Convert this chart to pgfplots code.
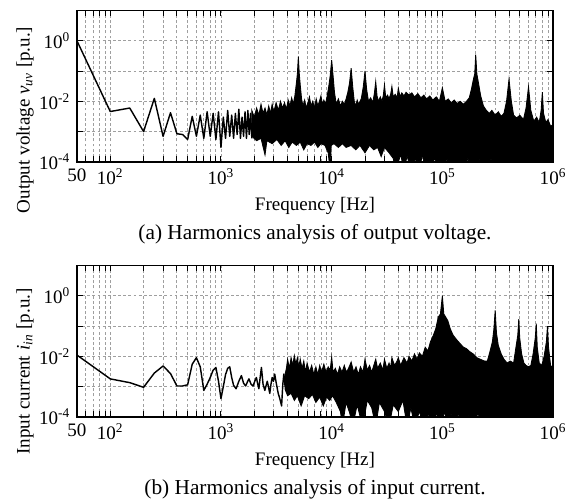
\documentclass[border=0pt]{standalone}
\usepackage{fontspec}
\setmainfont{Liberation Serif}
\usepackage{pgfplots}
\pgfplotsset{compat=1.18}

\begin{document}
\begin{tikzpicture}
\path[use as bounding box] (-40.4pt,-177pt) rectangle (261pt,85pt);

% (a) output voltage
\begin{axis}[
    name=top,
    xmode=log, ymode=log,
    scale only axis, width=250pt, height=79.5pt,
    xmin=50, xmax=1e6, ymin=1e-4, ymax=10,
    xtick={50,100,1000,10000,100000,1000000},
    xticklabels={50,10\textsuperscript{2},10\textsuperscript{3},10\textsuperscript{4},10\textsuperscript{5},10\textsuperscript{6}},
    minor xtick={60,70,80,90,200,300,400,500,600,700,800,900,2000,3000,4000,5000,6000,7000,8000,9000,20000,30000,40000,50000,60000,70000,80000,90000,200000,300000,400000,500000,600000,700000,800000,900000},
    ytick={1e-4,1e-3,1e-2,1e-1,1,10},
    yticklabels={10\textsuperscript{-4},,10\textsuperscript{-2},,10\textsuperscript{0},},
    minor y tick style={draw=none},
    xmajorgrids, xminorgrids, ymajorgrids, yminorgrids=false,
    major grid style={gray!75, dash pattern=on 1.5pt off 1.2pt, line width=0.45pt},
    minor grid style={gray!75, dash pattern=on 1.5pt off 1.2pt, line width=0.45pt},
    tick align=inside, major tick length=3pt, minor tick length=3pt,
    tick style={black, line width=0.5pt},
    axis line style={line width=0.8pt},
    tick label style={font=\fontsize{10}{12}\selectfont},
    label style={font=\fontsize{10}{12}\selectfont},
    xlabel={Frequency [Hz]},
    ylabel={Output voltage \textit{v}\textsubscript{\textit{uv}} [p.u.]},
    ylabel style={at={(axis description cs:-0.109,0.277)}, anchor=center},
  ]
\addplot[black, line width=0.75pt, line join=round] coordinates {
 (50,1.0) (100,4.6e-3) (150,6e-3) (200,1e-3) (250,1.25e-2) (300,7e-4) (350,4.2e-3) (400,8.5e-4)
 (450,8e-4) (500,5.5e-4) (550,3.2e-3) (600,7e-4) (650,3.5e-3) (700,6e-4) (750,4.5e-3) (800,7e-4)
 (850,4e-3) (900,5.5e-4) (950,4.5e-3) (1000,3e-4) (1050,3e-3) (1100,6e-4) (1150,5e-3) (1200,7e-4)
 (1250,3.5e-3) (1300,6e-4) (1350,4e-3) (1400,8e-4) (1450,5.5e-3) (1500,6e-4) (1550,3e-3) (1600,7e-4)
 (1650,4.5e-3) (1700,6e-4) (1750,5e-3) (1800,8e-4) (1850,4e-3) (1900,6e-4)
};
% band: upper envelope, then lower envelope backwards
\addplot[black, fill=black, line width=0.45pt] coordinates {
 (1900,5e-3) (2000,3e-3) (2100,6e-3) (2200,3.5e-3) (2300,8e-3) (2400,4e-3) (2500,6e-3) (2600,3.5e-3)
 (2700,7e-3) (2800,4e-3) (2900,8e-3) (3000,4.5e-3) (3150,9e-3) (3300,5e-3) (3450,1e-2) (3600,6e-3)
 (3750,9e-3) (3900,5.5e-3) (4050,1.1e-2) (4200,7e-3) (4350,1.3e-2) (4500,8e-3) (4650,1.5e-2) (4800,4e-2)
 (4900,8e-2) (5000,0.3) (5100,8e-2) (5200,3.5e-2) (5350,1.2e-2) (5500,7e-3) (5700,1.1e-2) (5900,6e-3)
 (6100,9e-3) (6300,1.4e-2) (6500,7e-3) (6750,1e-2) (7000,6e-3) (7250,1.2e-2) (7500,7e-3) (7750,1e-2)
 (8000,1.5e-2) (8250,8e-3) (8500,1.1e-2) (8800,8e-3) (9100,1.5e-2) (9400,3e-2) (9700,7e-2) (10000,0.23)
 (10300,7e-2) (10600,2e-2) (11000,8e-3) (11500,1.2e-2) (12000,7e-3) (12500,1e-2) (13000,8e-3) (13500,1.2e-2)
 (14000,2e-2) (14500,4e-2) (15000,0.125) (15500,3e-2) (16000,1e-2) (16500,7e-3) (17000,1.1e-2) (17500,8e-3)
 (18500,1.2e-2) (19300,3e-2) (20000,0.1) (20700,2.5e-2) (21500,1e-2) (22500,1.3e-2) (23500,9e-3) (24300,1.8e-2)
 (25000,4.5e-2) (25700,1.5e-2) (26500,1e-2) (27500,1.4e-2) (28500,1e-2) (29300,1.6e-2) (30000,3.5e-2) (30800,1.3e-2)
 (32000,1.6e-2) (33000,1.2e-2) (34200,1.8e-2) (35000,3.1e-2) (36000,1.4e-2) (37500,1.7e-2) (39000,1.3e-2) (40000,2.7e-2)
 (41500,1.4e-2) (43000,1.9e-2) (45000,1.5e-2) (47000,2e-2) (50000,1.6e-2) (53000,1.9e-2) (56000,1.4e-2) (60000,1.8e-2)
 (64000,1.3e-2) (68000,1.6e-2) (72000,1.2e-2) (77000,1.5e-2) (82000,1.1e-2) (88000,1.4e-2) (94000,1e-2) (100000,2.8e-2)
 (106000,1e-2) (113000,1.2e-2) (120000,9e-3) (128000,1.1e-2) (136000,8.5e-3) (145000,1e-2) (155000,8e-3) (165000,1e-2)
 (175000,1.3e-2) (183000,2.5e-2) (190000,5e-2) (196000,8e-2) (200000,0.35) (205000,8e-2) (212000,4e-2) (222000,1.5e-2)
 (235000,7e-3) (250000,5e-3) (265000,4e-3) (280000,5e-3) (300000,3.5e-3) (320000,4.5e-3) (340000,3.2e-3) (360000,4e-3)
 (380000,1e-2) (400000,5.4e-2) (420000,1e-2) (440000,3.5e-3) (470000,2.8e-3) (500000,3.5e-3) (540000,2.5e-3) (570000,6e-3)
 (600000,3e-2) (630000,5e-3) (670000,2.2e-3) (710000,3e-3) (750000,2e-3) (780000,5e-3) (800000,2e-2) (820000,4e-3)
 (860000,2e-3) (900000,2.5e-3) (950000,1.5e-3) (1000000,1.7e-3)
 (1000000,5e-5) (290000,5e-5) (275000,1.3e-4) (260000,5e-5) (225000,5e-5) (215000,1.3e-4) (200000,5e-5) (180000,5e-5)
 (170000,1.4e-4) (160000,5e-5) (142000,5e-5) (135000,1.2e-4) (128000,5e-5) (118000,5e-5) (110000,1.3e-4) (100000,5e-5)
 (90000,5e-5) (85000,1.5e-4) (80000,5e-5) (70000,5e-5) (66000,1.8e-4) (62000,5e-5) (57000,1.3e-4) (52000,5e-5)
 (48000,1.6e-4) (45000,5e-5) (42000,1.8e-4) (38000,5e-5) (36000,1.3e-4) (33000,2e-4) (30000,3e-4) (28000,1.5e-4)
 (26000,3e-4) (24000,2.5e-4) (22000,3.5e-4) (20000,2e-4) (18000,3.5e-4) (16500,2.5e-4) (15000,3.5e-4) (13500,3e-4)
 (12500,4e-4) (11500,3e-4) (10500,4e-4) (9900,3.5e-4) (9700,5e-5) (9300,2e-4) (8700,3.5e-4) (8000,4e-4)
 (7500,3e-4) (7000,4.5e-4) (6500,3.5e-4) (6000,4e-4) (5600,2.5e-4) (5200,4.5e-4) (4800,3.5e-4) (4400,4.5e-4)
 (4100,3e-4) (3800,5e-4) (3500,3.5e-4) (3200,5.5e-4) (2900,4e-4) (2600,5e-4) (2500,1.7e-4) (2300,6e-4)
 (2100,5e-4) (1900,7e-4)
} -- cycle;
\end{axis}

% (b) input current
\begin{axis}[
    name=bot, at={(0,-133.9pt)},
    xmode=log, ymode=log,
    scale only axis, width=250pt, height=79.5pt,
    xmin=50, xmax=1e6, ymin=1e-4, ymax=10,
    xtick={50,100,1000,10000,100000,1000000},
    xticklabels={50,10\textsuperscript{2},10\textsuperscript{3},10\textsuperscript{4},10\textsuperscript{5},10\textsuperscript{6}},
    minor xtick={60,70,80,90,200,300,400,500,600,700,800,900,2000,3000,4000,5000,6000,7000,8000,9000,20000,30000,40000,50000,60000,70000,80000,90000,200000,300000,400000,500000,600000,700000,800000,900000},
    ytick={1e-4,1e-3,1e-2,1e-1,1,10},
    yticklabels={10\textsuperscript{-4},,10\textsuperscript{-2},,10\textsuperscript{0},},
    minor y tick style={draw=none},
    xmajorgrids, xminorgrids, ymajorgrids, yminorgrids=false,
    major grid style={gray!75, dash pattern=on 1.5pt off 1.2pt, line width=0.45pt},
    minor grid style={gray!75, dash pattern=on 1.5pt off 1.2pt, line width=0.45pt},
    tick align=inside, major tick length=3pt, minor tick length=3pt,
    tick style={black, line width=0.5pt},
    axis line style={line width=0.8pt},
    tick label style={font=\fontsize{10}{12}\selectfont},
    label style={font=\fontsize{10}{12}\selectfont},
    xlabel={Frequency [Hz]},
    ylabel={Input current \textit{i}\textsubscript{\textit{in}} [p.u.]},
    ylabel style={at={(axis description cs:-0.109,0.30)}, anchor=center},
  ]
\addplot[black, line width=0.75pt, line join=round] coordinates {
 (50,1.1e-2) (100,1.8e-3) (150,1.35e-3) (200,9.5e-4) (250,2.8e-3) (300,4.8e-3) (350,2.7e-3) (400,1.05e-3)
 (450,1.05e-3) (500,1.15e-3) (550,5.5e-3) (600,9e-3) (650,4.5e-3) (700,7.5e-4) (750,1.2e-3) (800,2e-3)
 (850,3.5e-3) (900,4.3e-3) (950,1.5e-3) (1000,4e-4) (1050,1e-3) (1100,2.5e-3) (1150,4e-3) (1200,4.5e-3)
 (1250,2e-3) (1300,1.1e-3) (1370,8.5e-4) (1450,1.5e-3) (1530,2.3e-3) (1600,1.3e-3) (1670,1.05e-3) (1730,1.4e-3)
 (1790,1.8e-3) (1870,1.2e-3) (1950,1.05e-3) (2020,1.5e-3) (2090,2e-3) (2150,1.2e-3) (2200,8.5e-4) (2260,2e-3)
 (2320,4.3e-3) (2400,1.2e-3) (2490,7.5e-4) (2560,1.1e-3) (2620,1.5e-3) (2700,9e-4) (2760,6e-4) (2830,1.2e-3)
 (2900,2e-3) (2980,1.5e-3) (3060,2.6e-3) (3170,1.2e-3) (3290,6e-4) (3400,4e-4) (3530,2.3e-4) (3620,1.2e-3)
 (3700,2.6e-3) (3800,1e-3)
};
\addplot[black, fill=black, line width=0.45pt] coordinates {
 (3800,2.6e-3) (3900,4e-3) (4000,8e-3) (4150,4e-3) (4300,9e-3) (4450,5e-3) (4600,1.05e-2) (4750,5.5e-3)
 (4900,9e-3) (5050,4.5e-3) (5200,8e-3) (5400,4e-3) (5600,7e-3) (5800,3e-3) (6000,6e-3) (6300,3e-3)
 (6600,5e-3) (6900,2.5e-3) (7200,4.5e-3) (7500,2.5e-3) (7800,5e-3) (8100,3e-3) (8500,5.5e-3) (8900,3e-3)
 (9300,4.5e-3) (9700,3.5e-3) (10000,9.5e-3) (10300,3e-3) (10800,4e-3) (11300,2.5e-3) (11800,4.5e-3) (12400,3e-3)
 (13000,5e-3) (13600,3e-3) (14200,4e-3) (15000,6.5e-3) (15800,3e-3) (16600,4.5e-3) (17400,2.5e-3) (18200,4.5e-3)
 (19200,3e-3) (20000,8e-3) (21000,3.5e-3) (22000,5e-3) (23000,3e-3) (24000,5e-3) (25000,8e-3) (26000,4e-3)
 (27500,6e-3) (29000,3.5e-3) (30000,8e-3) (31500,4e-3) (33000,6e-3) (34000,4e-3) (35000,9e-3) (37000,5e-3)
 (39000,7e-3) (40000,9e-3) (42000,5e-3) (45000,9e-3) (48000,6e-3) (50000,1e-2) (53000,7e-3) (56000,1.2e-2)
 (59000,8e-3) (62000,1.3e-2) (66000,1e-2) (70000,2e-2) (74000,1.5e-2) (78000,3e-2) (83000,5e-2) (87000,8e-2)
 (92000,0.2) (96000,0.25) (100000,1.0) (103000,0.25) (107000,0.2) (112000,0.15) (118000,8e-2) (125000,5e-2)
 (135000,3.5e-2) (145000,2.6e-2) (155000,2e-2) (165000,1.8e-2) (178000,1.4e-2) (190000,1.2e-2) (205000,9e-3) (220000,8e-3)
 (240000,7e-3) (255000,7e-3) (270000,1.5e-2) (283000,3e-2) (292000,8e-2) (300000,0.33) (308000,6e-2) (320000,2.3e-2)
 (340000,1.2e-2) (360000,8e-3) (385000,6e-3) (410000,7e-3) (440000,6e-3) (460000,1.8e-2) (480000,5e-2) (490000,0.17)
 (500000,4e-2) (520000,1.2e-2) (545000,6e-3) (570000,5e-3) (600000,4.5e-3) (630000,5e-3) (660000,1.2e-2) (690000,4e-2)
 (705000,0.12) (720000,2e-2) (750000,6e-3) (790000,5e-3) (830000,1e-2) (870000,3e-2) (890000,0.1) (910000,2e-2)
 (950000,5e-3) (1000000,3.9e-3)
 (1000000,5e-5) (360000,5e-5) (330000,1.2e-4) (290000,5e-5) (270000,1.2e-4) (230000,5e-5) (210000,1.3e-4) (185000,5e-5)
 (170000,1.2e-4) (150000,5e-5) (140000,1.3e-4) (127000,5e-5) (120000,1.3e-4) (110000,5e-5) (105000,1.5e-4) (95000,5e-5)
 (90000,1.4e-4) (80000,5e-5) (75000,1.3e-4) (68000,5e-5) (62000,1.5e-4) (56000,5e-5) (52000,2e-4) (48000,5e-5)
 (44000,3.5e-4) (40000,1.5e-4) (36000,2.5e-4) (33000,5e-5) (30000,1.5e-4) (27000,3e-4) (25000,5e-5) (23000,2e-4)
 (21000,3.5e-4) (19000,5e-5) (17000,2.5e-4) (15500,5e-5) (14500,1.4e-4) (13500,3e-4) (12500,5e-5) (12000,1.5e-4)
 (11000,3e-4) (10200,5e-4) (9600,3.5e-4) (9000,4.5e-4) (8400,2.3e-4) (7800,4.5e-4) (7200,3e-4) (6700,5.5e-4)
 (6200,4e-4) (5700,5e-4) (5300,2.3e-4) (4900,5e-4) (4600,3.5e-4) (4300,6e-4) (4000,5e-4) (3800,8e-4)
} -- cycle;
\end{axis}

\node[font=\fontsize{11.2}{13}\selectfont] at ([yshift=-37.8pt]top.south) {(a) Harmonics analysis of output voltage.};
\node[font=\fontsize{11.2}{13}\selectfont] at ([yshift=-37.8pt]bot.south) {(b) Harmonics analysis of input current.};
\end{tikzpicture}
\end{document}
